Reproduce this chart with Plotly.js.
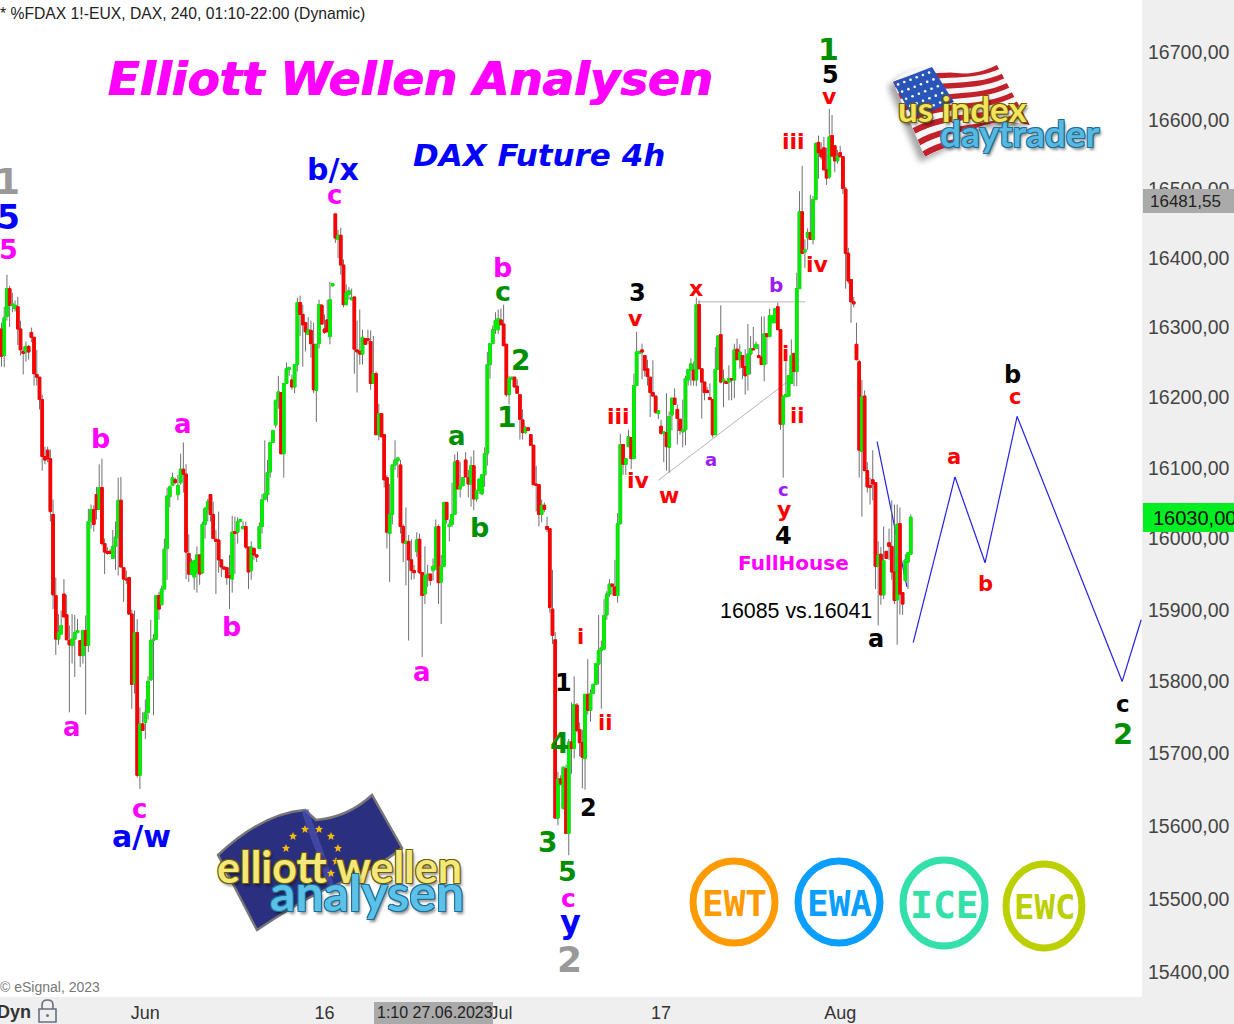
<!DOCTYPE html>
<html>
<head>
<meta charset="utf-8">
<script src="https://cdn.plot.ly/plotly-3.0.1.min.js"></script>
<style>html,body{margin:0;padding:0;background:#efefef;overflow:hidden}#chart{width:1234px;height:1024px}</style>
</head>
<body>
<div id="chart"></div>
<script>
const open=[
16298,16260,16316,16356,16332,16327,16330,16298,16266,16265,
16273,16293,16286,16233,16229,16197,16116,16125,16113,16034,
15920,15859,15866,15922,15893,15857,15850,15859,15868,15857,
15836,15871,15850,16024,16041,16062,16041,16072,15993,15982,
15982,15972,15989,16002,16054,15959,15943,15945,15894,15797,
15868,15670,15741,15743,15757,15802,15857,15859,15920,15907,
15929,15986,16059,16075,16083,16062,16079,16098,16091,15979,
15950,15946,15952,15977,15952,16020,16041,16062,16034,15999,
15998,15970,15960,15959,15948,15943,16010,16009,16024,16014,
16017,15988,15955,15986,15977,15986,16017,16055,16062,16094,
16136,16161,16196,16207,16120,16220,16240,16225,16215,16247,
16336,16319,16307,16290,16296,16276,16210,16277,16332,16298,
16311,16287,16360,16464,16427,16433,16390,16333,16348,16340,
16344,16268,16266,16262,16284,16284,16280,16220,16234,16147,
16177,16147,16086,16007,16034,16104,16110,16104,16017,15993,
15996,15970,15955,15982,15999,15952,15922,15948,15950,15955,
15957,16017,15939,15961,16051,16017,16020,16034,16110,16070,
16075,16111,16086,16077,16103,16056,16068,16063,16090,16120,
16247,16277,16297,16297,16311,16305,16276,16204,16226,16229,
16216,16204,16168,16150,16157,16147,16132,16077,16076,16034,
16047,16017,16014,15901,15858,15611,15665,15624,15679,15590,
15716,15707,15767,15733,15715,15693,15782,15760,15783,15796,
15824,15843,15845,15893,15922,15936,15932,15920,16021,16133,
16105,16130,16143,16113,16217,16263,16268,16260,16241,16229,
16207,16202,16177,16159,16149,16150,16129,16175,16199,16183,
16169,16151,16154,16225,16239,16239,16225,16333,16241,16222,
16210,16200,16197,16147,16240,16290,16223,16223,16222,16227,
16225,16269,16254,16260,16244,16233,16262,16270,16270,16260,
16257,16247,16291,16287,16307,16307,16330,16297,16162,16201,
16202,16220,16263,16237,16356,16467,16409,16430,16437,16427,
16485,16568,16557,16560,16528,16518,16578,16563,16541,16553,
16547,16500,16407,16369,16337,16276,16251,16123,16202,16096,
16075,16083,16079,15961,15978,15921,15982,15994,15989,15953,
15914,16021,15924,15941,15967,15978];
const high=[
16307,16330,16376,16360,16350,16339,16344,16310,16273,16280,
16275,16300,16286,16268,16229,16204,16130,16130,16126,16055,
15945,15894,15899,15943,15921,15878,15894,15893,15887,15857,
15871,15892,16042,16048,16047,16073,16105,16113,16000,15988,
15985,16012,16024,16086,16087,15959,15955,15945,15900,15899,
15887,15764,15757,15775,15807,15886,15866,15920,15925,15934,
16000,16072,16075,16093,16086,16090,16120,16136,16105,16006,
15972,15970,15989,15977,16024,16045,16056,16062,16052,16012,
16038,15970,15960,15959,15977,16032,16031,16030,16027,16024,
16024,15988,15996,15988,15977,16023,16063,16139,16111,16136,
16154,16196,16231,16207,16220,16250,16243,16233,16247,16343,
16346,16333,16307,16315,16310,16307,16276,16340,16334,16319,
16340,16366,16363,16464,16441,16444,16398,16362,16358,16356,
16344,16310,16326,16297,16284,16297,16296,16288,16237,16191,
16177,16147,16090,16077,16104,16139,16114,16111,16020,16044,
16005,15999,15963,16009,16007,15952,15989,15963,15950,15972,
16027,16020,15977,16052,16051,16027,16079,16119,16123,16108,
16086,16122,16097,16116,16125,16068,16084,16090,16129,16265,
16277,16303,16322,16326,16327,16333,16277,16231,16229,16229,
16226,16204,16183,16159,16157,16147,16132,16103,16076,16055,
16051,16031,16014,15956,15869,15675,15670,15682,15685,15720,
15771,15807,15770,15743,15733,15782,15831,15789,15796,15825,
15893,15857,15915,15926,15943,15936,15970,16036,16148,16133,
16113,16154,16143,16234,16294,16266,16277,16260,16254,16229,
16253,16202,16181,16168,16151,16206,16180,16199,16213,16190,
16169,16197,16231,16240,16256,16251,16343,16339,16241,16222,
16215,16220,16197,16272,16288,16332,16240,16223,16246,16227,
16277,16284,16276,16260,16269,16305,16288,16301,16280,16276,
16316,16316,16291,16327,16317,16327,16336,16297,16202,16269,
16231,16283,16263,16379,16497,16534,16427,16443,16492,16490,
16568,16578,16568,16576,16560,16617,16608,16563,16557,16563,
16548,16503,16415,16369,16344,16307,16254,16225,16210,16108,
16086,16125,16079,15996,15988,16017,15982,16014,16054,16048,
16048,16044,15924,15978,15980,16034];
const low=[
16244,16243,16310,16301,16322,16323,16275,16260,16233,16251,
16254,16279,16217,16217,16183,16096,16105,16108,16024,15901,
15837,15851,15865,15890,15858,15757,15825,15806,15868,15820,
15825,15754,15841,16014,16010,16027,16041,15990,15950,15977,
15978,15972,15956,15948,15960,15911,15936,15894,15762,15783,
15667,15651,15732,15720,15747,15802,15753,15858,15886,15907,
15929,15942,16044,16075,16077,16054,16076,16065,15943,15939,
15949,15928,15924,15935,15950,16000,16024,16024,16000,15922,
15952,15946,15956,15935,15901,15924,15950,15993,16024,16013,
15985,15929,15942,15970,15967,15986,16007,16055,16052,16086,
16136,16157,16184,16119,16086,16219,16231,16211,16206,16237,
16288,16244,16266,16290,16257,16206,16165,16270,16305,16291,
16294,16276,16360,16422,16400,16376,16329,16332,16340,16340,
16234,16207,16247,16247,16276,16276,16211,16220,16147,16139,
16144,16072,15986,15939,16020,16097,16086,16007,15967,15934,
15857,15942,15943,15974,15950,15834,15908,15932,15934,15941,
15957,15908,15880,15961,16021,15996,16016,16034,16070,16058,
16073,16087,16058,16045,16040,16052,16063,16062,16073,16103,
16227,16277,16291,16291,16304,16274,16201,16190,16226,16215,
16206,16140,16140,16148,16153,16132,16076,16038,16017,16023,
16037,16009,15896,15852,15611,15601,15656,15623,15590,15560,
15672,15693,15729,15696,15652,15650,15754,15744,15783,15796,
15796,15762,15845,15886,15918,15920,15920,15910,16020,16090,
16090,16130,16098,16113,16217,16263,16226,16230,16217,16172,
16202,16177,16169,16147,16108,16096,16093,16153,16190,16133,
16147,16129,16132,16217,16217,16217,16216,16241,16170,16196,
16207,16197,16143,16147,16240,16220,16186,16220,16196,16196,
16199,16254,16241,16226,16204,16210,16233,16268,16270,16257,
16247,16223,16247,16287,16307,16307,16297,16154,16086,16201,
16202,16220,16216,16216,16356,16407,16386,16412,16427,16420,
16485,16515,16543,16528,16506,16515,16548,16525,16537,16547,
16493,16356,16363,16307,16329,16253,16086,16031,16096,16065,
16048,16054,15929,15878,15907,15915,15972,15970,15942,15908,
15851,15893,15893,15939,15929,15978];
const close=[
16259,16314,16356,16332,16334,16332,16298,16268,16263,16273,
16265,16286,16234,16229,16197,16116,16111,16113,16038,15921,
15859,15868,15878,15890,15858,15851,15859,15868,15871,15836,
15871,15850,16024,16041,16020,16041,16072,15993,15981,15979,
15979,15989,16002,16054,15960,15943,15942,15894,15796,15868,
15670,15741,15732,15757,15800,15857,15859,15920,15901,15929,
15985,16060,16073,16086,16079,16075,16098,16091,15981,15950,
15966,15969,15977,15950,16020,16042,16052,16034,16000,15996,
15970,15960,15957,15945,15945,16009,16007,16024,16027,16017,
15988,15953,15988,15977,15974,16017,16055,16063,16093,16136,
16153,16196,16208,16120,16220,16241,16243,16215,16247,16336,
16319,16304,16294,16297,16277,16211,16276,16333,16305,16293,
16294,16340,16363,16429,16433,16390,16333,16350,16353,16343,
16269,16265,16262,16286,16276,16282,16220,16234,16147,16177,
16144,16083,16009,16034,16104,16111,16114,16017,15994,15996,
15970,15955,15952,15998,15952,15920,15948,15950,15941,15961,
16016,15938,15961,16051,16027,16020,16034,16108,16070,16075,
16086,16087,16077,16103,16056,16068,16084,16090,16120,16247,
16277,16297,16310,16313,16304,16274,16204,16227,16229,16215,
16206,16169,16150,16157,16153,16132,16076,16075,16034,16047,
16041,16013,15903,15864,15611,15665,15658,15681,15590,15716,
15707,15768,15732,15715,15695,15782,15760,15783,15796,15825,
15843,15847,15892,15922,15936,15933,15920,16021,16133,16105,
16113,16144,16113,16217,16265,16266,16265,16239,16230,16207,
16202,16179,16181,16149,16151,16130,16173,16199,16190,16170,
16153,16154,16227,16240,16248,16225,16333,16241,16222,16207,
16207,16197,16147,16240,16288,16222,16226,16220,16227,16225,
16268,16254,16265,16243,16231,16262,16270,16268,16276,16257,
16247,16291,16287,16317,16317,16327,16297,16162,16202,16204,
16231,16260,16237,16356,16467,16407,16412,16437,16427,16485,
16566,16553,16547,16528,16516,16576,16548,16541,16548,16547,
16501,16407,16367,16337,16334,16254,16125,16201,16096,16073,
16072,16077,15961,15977,15921,15969,15972,15989,15953,15913,
16020,15922,15908,15970,15980,16030];
const barIndex=open.map((_,i)=>i);
const priceTicks=[16700,16600,16500,16400,16300,16200,16100,16000,15900,15800,15700,15600,15500,15400];
const priceLabels=["16700,00","16600,00","16500,00","16400,00","16300,00","16200,00","16100,00","16000,00","15900,00","15800,00","15700,00","15600,00","15500,00","15400,00"];
const timeTicks=[53,119,184,243,309];
const timeLabels=["Jun","16","Jul","17","Aug"];
const priceRange=[15367,16777];
const barRange=[-0.553,420.2];
const projectionX=[335.9,351.3,362.4,374.2,412.9,419.9];
const projectionY=[15854,16087,15966,16173,15800,15886];
const fallX=[322.6,333.6];
const fallY=[16137,15932];
const resistanceX=[256.6,296.1];
const resistanceY=[16337,16337];
const supportX=[241.9,289.8];
const supportY=[16082,16223];

const W=1142,H=997;
const px=x=>x/W, py=y=>1-y/H;
const F='"DejaVu Sans"', A='"Liberation Sans", Arial';
const M='#ff00ff',B='#0000ff',R='#ff0000',K='#000000',G='#008f00',Y='#999999',V='#9b1cf5';
// text, centre x, centre y, colour, size
const waves=[
["1",7,182,Y,36],["5",8,218,B,33],["5",8,250,M,27],
["b/x",333,170,B,30],["c",334,195,M,26],
["b",100,439,M,27],["a",183,424,M,26],["b",231,626,M,27],["a",72,727,M,26],["c",139,809,M,26],["a/w",141,836,B,30],
["a",422,672,M,26],["b",502,267,M,27],["c",503,292,G,27],["2",520,360,G,28],["1",506,418,G,28],["a",457,436,G,26],["b",479,527,G,27],
["1",563,683,K,24],["4",559,743,G,28],["2",588,808,K,24],["3",547,842,G,28],["5",567,871,G,27],["c",568,898,M,25],["y",570,922,B,32],["2",569,959,Y,36],
["i",580,637,R,21],["ii",605,723,R,21],["iii",618,416,R,22],["iv",638,481,R,22],["3",637,293,K,24],["v",635,318,R,22],
["w",669,495,R,22],["x",696,288,R,22],["a",711,459,V,18],["b",776,285,V,20],["c",784,489,V,18],["y",784,509,R,22],["4",784,536,K,24],
["ii",797,416,R,21],["i",785,354,R,21],["iv",817,265,R,22],["iii",793,142,R,22],["v",829,96,R,22],["5",830,75,K,24],["1",828,50,G,30],
["a",876,639,K,24],["a",954,457,R,21],["b",985,584,R,21],["c",1015,397,R,21],["b",1012,375,K,24],["c",1123,704,K,23],["2",1123,734,G,29],
["FullHouse",793,563,M,20]
];
function note(text,x,y,color,size,opt){
  opt=opt||{};
  return Object.assign({text:text,xref:'paper',yref:'paper',x:px(x),y:py(y),xanchor:opt.anchor||'center',yanchor:'middle',
    showarrow:false,font:{family:opt.family||F,size:size,color:color,weight:opt.weight||'bold',style:opt.style||'normal',shadow:opt.shadow||'none'}},opt.extra||{});
}
const outline=c=>`1px 1px 0 ${c},-1px -1px 0 ${c},1px -1px 0 ${c},-1px 1px 0 ${c},2px 3px 3px rgba(0,0,0,.45)`;
const annotations=waves.map(w=>note(w[0],w[1],w[2],w[3],w[4]));
annotations.push(
  note("Elliott Wellen Analysen",410,79,M,46.6,{style:'italic',shadow:'0.6px 0 0 #ff00ff,-0.6px 0 0 #ff00ff'}),
  note("DAX Future 4h",539,155,B,31,{style:'italic'}),
  note("16085 vs.16041",796,611,K,21.4,{family:A,weight:'normal'}),
  note("* %FDAX 1!-EUX, DAX, 240, 01:10-22:00 (Dynamic)",-2,13,'#222222',15.7,{family:A,weight:'normal',anchor:'left'}),
  note("© eSignal, 2023",-2,987,'#777777',14,{family:A,weight:'normal',anchor:'left'}),
  note("Dyn",-5,1012,'#333333',18,{family:A,anchor:'left'}),
  note("1:10 27.06.2023",375,1013,'#222222',16,{family:A,weight:'normal',anchor:'left'}),
  note("16481,55",1148,201,'#222222',17,{family:A,weight:'normal',anchor:'left'}),
  note("16030,00",1151,518,'#111111',20,{family:A,weight:'normal',anchor:'left'}),
  note("EWT",734,903,'#ff9a00',36,{family:'"DejaVu Sans Mono"'}),
  note("EWA",839,903,'#0a9eff',36,{family:'"DejaVu Sans Mono"'}),
  note("ICE",944,905,'#33e0aa',38,{family:'"DejaVu Sans Mono"'}),
  note("EWC",1044,907,'#bccf00',34,{family:'"DejaVu Sans Mono"'}),
  note("us index",963,108,'#f2e45c',35,{family:'Lato',shadow:outline('#6d5c00')}),
  note("daytrader",1020,132,'#58b9e0',37,{family:'Lato',shadow:outline('#1c6f9c')}),
  note("elliott wellen",339,866,'#f5e87a',43,{family:'Lato',shadow:outline('#6d5c00')}),
  note("analysen",367,892,'#5cc1e6',50,{family:'Lato',shadow:outline('#1c6f9c')})
);

function lineShape(xs,ys,color,width,i){
  return {type:'line',xref:'x',yref:'y',x0:xs[i],y0:ys[i],x1:xs[i+1],y1:ys[i+1],layer:'below',line:{color:color,width:width}};
}
const shapes=[];
projectionX.slice(1).forEach((_,i)=>shapes.push(lineShape(projectionX,projectionY,'#2222e6',1.2,i)));
shapes.push(lineShape(fallX,fallY,'#2222e6',1.2,0));
shapes.push(lineShape(resistanceX,resistanceY,'#b4b4b4',1,0));
shapes.push(lineShape(supportX,supportY,'#b4b4b4',1,0));
function box(x0,y0,x1,y1,fill){return {type:'rect',xref:'paper',yref:'paper',x0:px(x0),x1:px(x1),y0:py(y0),y1:py(y1),fillcolor:fill,line:{width:0},layer:'above'};}
shapes.push(box(1143,189,1234,213,'#aaaaaa'));
shapes.push(box(1143,503,1234,532,'#00ee22'));
shapes.push(box(374,1002,493,1024,'#aaaaaa'));
function ring(cx,cy,rx,ry,color){return {type:'circle',xref:'paper',yref:'paper',x0:px(cx-rx),x1:px(cx+rx),y0:py(cy-ry),y1:py(cy+ry),line:{color:color,width:7},fillcolor:'rgba(0,0,0,0)',layer:'above'};}
shapes.push(ring(734,902,41,41,'#ff9a00'),ring(839,902,41,41,'#0a9eff'),ring(944,903,41,43,'#33e0aa'),ring(1044,906,38,42,'#bccf00'));
function pathPx(cmds){return cmds.map(c=>c[0]+c.slice(1).map((v,i)=>i%2===0?px(v):py(v)).join(' ')).join(' ');}
const lockColor='#667080';
shapes.push({type:'path',xref:'paper',yref:'paper',path:pathPx([['M',42,1009],['L',42,1005],['Q',42,1000,47.5,1000],['Q',53,1000,53,1005],['L',53,1009]]),line:{color:lockColor,width:1.6},layer:'above'});
shapes.push({type:'rect',xref:'paper',yref:'paper',x0:px(39),x1:px(56),y0:py(1009),y1:py(1022),line:{color:lockColor,width:1.6},fillcolor:'rgba(0,0,0,0)',layer:'above'});
shapes.push({type:'circle',xref:'paper',yref:'paper',x0:px(46),x1:px(49),y0:py(1014),y1:py(1017),line:{width:0},fillcolor:lockColor,layer:'above'});

function usFlag(){
  const lerp=(a,b,t)=>a+(b-a)*t;
  let stripes='';
  for(let k=0;k<13;k++){
    const t=(k+0.5)/13;
    const x0=lerp(893,925,t),y0=lerp(82,157,t),x1=lerp(997,1030,t),y1=lerp(65,125,t);
    const mx1=lerp(x0,x1,.33),my1=lerp(y0,y1,.33)-10,mx2=lerp(x0,x1,.66),my2=lerp(y0,y1,.66)+9;
    stripes+=`<path d="M${x0} ${y0} C${mx1} ${my1} ${mx2} ${my2} ${x1} ${y1}" fill="none" stroke="${k%2?'#f6f6f6':'#c0212b'}" stroke-width="6.2"/>`;
  }
  let stars='';
  for(let a=0;a<6;a++)for(let b=0;b<5;b++){
    const u=(a+.5)/6,v=(b+.5)/5;
    const sx=lerp(lerp(893,930,u),lerp(913,952,u),v),sy=lerp(lerp(82,68,u),lerp(118,102,u),v);
    stars+=`<circle cx="${sx}" cy="${sy}" r="1.3" fill="#fff"/>`;
  }
  const shape='M893 82 C908 68 920 66 932 67 C955 76 975 76 997 65 L1030 125 C1000 118 980 124 962 136 C948 148 935 152 925 157 Z';
  return `<svg xmlns="http://www.w3.org/2000/svg" width="160" height="120" viewBox="885 55 160 120"><defs><clipPath id="f"><path d="${shape}"/></clipPath><filter id="s" x="-20%" y="-20%" width="140%" height="140%"><feGaussianBlur stdDeviation="3"/></filter></defs>
  <path d="${shape}" transform="translate(-5 5)" fill="#000" opacity=".35" filter="url(#s)"/>
  <g clip-path="url(#f)"><rect x="885" y="55" width="160" height="120" fill="#f6f6f6"/>${stripes}<path d="M893 82 L932 67 L954 102 L913 118 Z" fill="#2a55b8"/>${stars}</g></svg>`;
}
function euFlag(){
  const shape='M218 855 C250 825 280 812 305 810 L316 820 C340 818 358 808 372 795 L402 848 C375 870 345 880 320 892 C295 905 275 918 257 930 Z';
  const ring=[[293,836],[305,829],[319,829],[331,836],[338,848],[336,861],[331,873],[286,848]];
  const stars=ring.map(p=>`<path d="M${p[0]} ${p[1]-4} L${p[0]+1.2} ${p[1]-1.2} L${p[0]+4} ${p[1]-1} L${p[0]+1.9} ${p[1]+1} L${p[0]+2.5} ${p[1]+4} L${p[0]} ${p[1]+2.3} L${p[0]-2.5} ${p[1]+4} L${p[0]-1.9} ${p[1]+1} L${p[0]-4} ${p[1]-1} L${p[0]-1.2} ${p[1]-1.2} Z" fill="#f2b90f"/>`).join('');
  return `<svg xmlns="http://www.w3.org/2000/svg" width="210" height="150" viewBox="205 785 210 150"><path d="${shape}" fill="#2a2f80" stroke="#777" stroke-width="2.4"/><path d="M305 810 C312 835 325 860 330 885" fill="none" stroke="#4a50b0" stroke-width="7" opacity=".7"/>${stars}</svg>`;
}
const svgUri=s=>'data:image/svg+xml;charset=utf-8,'+encodeURIComponent(s);
const images=[
 {source:svgUri(usFlag()),xref:'paper',yref:'paper',x:px(885),y:py(55),sizex:160/W,sizey:120/H,xanchor:'left',yanchor:'top',sizing:'stretch',layer:'above'},
 {source:svgUri(euFlag()),xref:'paper',yref:'paper',x:px(205),y:py(785),sizex:210/W,sizey:150/H,xanchor:'left',yanchor:'top',sizing:'stretch',layer:'above'}
];

const bodyTop=open.map((o,i)=>Math.max(o,close[i]));
const bodyBottom=open.map((o,i)=>Math.min(o,close[i]));
const wick='#707070';
const traces=[
 {type:'candlestick',x:barIndex,open:open,high:high,low:low,close:close,whiskerwidth:0,hoverinfo:'skip',
  increasing:{line:{color:wick,width:1},fillcolor:'#00ee00'},decreasing:{line:{color:wick,width:1},fillcolor:'#ff0000'}},
 {type:'candlestick',x:barIndex,open:open,high:bodyTop,low:bodyBottom,close:close,whiskerwidth:0,hoverinfo:'skip',
  increasing:{line:{color:'#00ee00',width:1},fillcolor:'#00ee00'},decreasing:{line:{color:'#ff0000',width:1},fillcolor:'#ff0000'}}
];
const layout={
 width:1234,height:1024,margin:{l:0,r:92,t:0,b:27,pad:0},
 paper_bgcolor:'#efefef',plot_bgcolor:'#ffffff',showlegend:false,hovermode:false,
 boxmode:'overlay',boxgap:0.05,boxgroupgap:0,
 font:{family:A},
 xaxis:{type:'linear',range:barRange,rangeslider:{visible:false},showgrid:false,zeroline:false,showline:false,ticks:'',ticklabelstandoff:3,
   tickmode:'array',tickvals:timeTicks,ticktext:timeLabels,tickfont:{family:A,size:18,color:'#333333'}},
 yaxis:{type:'log',side:'right',range:priceRange.map(Math.log10),showgrid:false,zeroline:false,showline:false,ticks:'',ticklabelstandoff:5,
   tickmode:'array',tickvals:priceTicks,ticktext:priceLabels,tickfont:{family:A,size:19.5,color:'#444444'}},
 shapes:shapes,annotations:annotations,images:images
};
Plotly.newPlot('chart',traces,layout,{displayModeBar:false,staticPlot:true});
</script>
</body>
</html>
